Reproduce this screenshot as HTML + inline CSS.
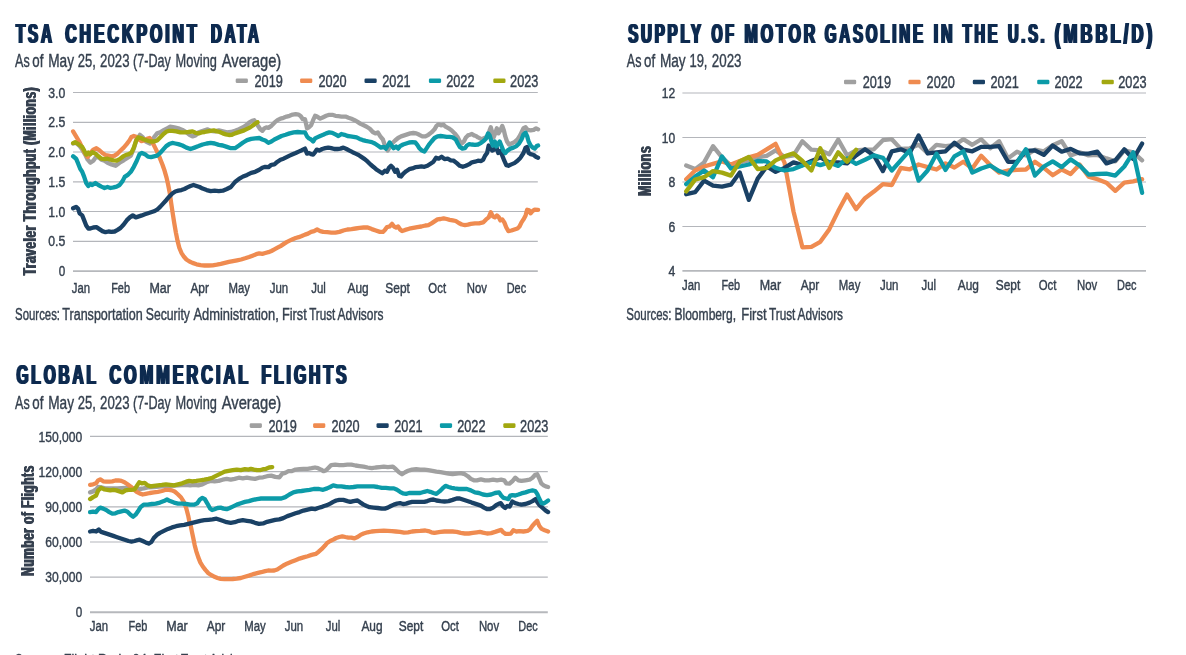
<!DOCTYPE html>
<html lang="en"><head><meta charset="utf-8"><title>Travel charts</title>
<style>
html,body{margin:0;padding:0;background:#fff;}
body{width:1186px;height:655px;overflow:hidden;font-family:"Liberation Sans", sans-serif;}
svg{display:block;font-family:"Liberation Sans", sans-serif;}
</style></head><body>
<svg width="1186" height="655" viewBox="0 0 1186 655">
<defs><filter id="hb" x="-2%" y="-10%" width="104%" height="120%"><feOffset in="SourceGraphic" dx="0.7" result="a"/><feOffset in="SourceGraphic" dx="-0.7" result="b"/><feMerge><feMergeNode in="a"/><feMergeNode in="b"/><feMergeNode in="SourceGraphic"/></feMerge></filter><filter id="vb" x="-20%" y="-5%" width="140%" height="110%"><feOffset in="SourceGraphic" dy="0.5" result="a"/><feOffset in="SourceGraphic" dy="-0.5" result="b"/><feMerge><feMergeNode in="a"/><feMergeNode in="b"/><feMergeNode in="SourceGraphic"/></feMerge></filter></defs>
<rect width="1186" height="655" fill="#ffffff"/>
<text y="42.7" font-size="26.8" font-weight="bold" fill="#0e2b50" letter-spacing="5.0" filter="url(#hb)"><tspan x="16.1" textLength="38.0" lengthAdjust="spacingAndGlyphs">TSA</tspan><tspan> </tspan><tspan x="65.2" textLength="134.5" lengthAdjust="spacingAndGlyphs">CHECKPOINT</tspan><tspan> </tspan><tspan x="211.1" textLength="50.4" lengthAdjust="spacingAndGlyphs">DATA</tspan></text>
<text y="66.6" font-size="19" fill="#36414f" stroke="#36414f" stroke-width="0.4"><tspan x="15.1" textLength="14.6" lengthAdjust="spacingAndGlyphs">As</tspan><tspan> </tspan><tspan x="32.3" textLength="11.1" lengthAdjust="spacingAndGlyphs">of</tspan><tspan> </tspan><tspan x="48.2" textLength="25.8" lengthAdjust="spacingAndGlyphs">May</tspan><tspan> </tspan><tspan x="77.7" textLength="18.1" lengthAdjust="spacingAndGlyphs">25,</tspan><tspan> </tspan><tspan x="100.1" textLength="29.4" lengthAdjust="spacingAndGlyphs">2023</tspan><tspan> </tspan><tspan x="133.1" textLength="37.7" lengthAdjust="spacingAndGlyphs">(7-Day</tspan><tspan> </tspan><tspan x="175.6" textLength="41.3" lengthAdjust="spacingAndGlyphs">Moving</tspan><tspan> </tspan><tspan x="221.7" textLength="59.6" lengthAdjust="spacingAndGlyphs">Average)</tspan></text>
<line x1="73.0" x2="537.8" y1="92.5" y2="92.5" stroke="#b4b6bb" stroke-width="1.15"/>
<line x1="73.0" x2="537.8" y1="122.3" y2="122.3" stroke="#b4b6bb" stroke-width="1.15"/>
<line x1="73.0" x2="537.8" y1="152.0" y2="152.0" stroke="#b4b6bb" stroke-width="1.15"/>
<line x1="73.0" x2="537.8" y1="181.8" y2="181.8" stroke="#b4b6bb" stroke-width="1.15"/>
<line x1="73.0" x2="537.8" y1="211.5" y2="211.5" stroke="#b4b6bb" stroke-width="1.15"/>
<line x1="73.0" x2="537.8" y1="241.3" y2="241.3" stroke="#b4b6bb" stroke-width="1.15"/>
<line x1="73.0" x2="537.8" y1="271.1" y2="271.1" stroke="#b6b8bc" stroke-width="1.9"/>
<text x="65.2" y="97.6" font-size="14" fill="#36414f" text-anchor="end" textLength="17.0" lengthAdjust="spacingAndGlyphs" stroke="#36414f" stroke-width="0.4">3.0</text>
<text x="65.2" y="127.4" font-size="14" fill="#36414f" text-anchor="end" textLength="17.0" lengthAdjust="spacingAndGlyphs" stroke="#36414f" stroke-width="0.4">2.5</text>
<text x="65.2" y="157.1" font-size="14" fill="#36414f" text-anchor="end" textLength="17.0" lengthAdjust="spacingAndGlyphs" stroke="#36414f" stroke-width="0.4">2.0</text>
<text x="65.2" y="186.9" font-size="14" fill="#36414f" text-anchor="end" textLength="17.0" lengthAdjust="spacingAndGlyphs" stroke="#36414f" stroke-width="0.4">1.5</text>
<text x="65.2" y="216.6" font-size="14" fill="#36414f" text-anchor="end" textLength="17.0" lengthAdjust="spacingAndGlyphs" stroke="#36414f" stroke-width="0.4">1.0</text>
<text x="65.2" y="246.4" font-size="14" fill="#36414f" text-anchor="end" textLength="17.0" lengthAdjust="spacingAndGlyphs" stroke="#36414f" stroke-width="0.4">0.5</text>
<text x="65.2" y="276.2" font-size="14" fill="#36414f" text-anchor="end" textLength="6.5" lengthAdjust="spacingAndGlyphs" stroke="#36414f" stroke-width="0.4">0</text>
<text x="81.0" y="292.7" font-size="14" fill="#36414f" text-anchor="middle" textLength="18.3" lengthAdjust="spacingAndGlyphs" stroke="#36414f" stroke-width="0.4">Jan</text>
<text x="120.6" y="292.7" font-size="14" fill="#36414f" text-anchor="middle" textLength="18.8" lengthAdjust="spacingAndGlyphs" stroke="#36414f" stroke-width="0.4">Feb</text>
<text x="160.2" y="292.7" font-size="14" fill="#36414f" text-anchor="middle" textLength="21.5" lengthAdjust="spacingAndGlyphs" stroke="#36414f" stroke-width="0.4">Mar</text>
<text x="199.7" y="292.7" font-size="14" fill="#36414f" text-anchor="middle" textLength="18.6" lengthAdjust="spacingAndGlyphs" stroke="#36414f" stroke-width="0.4">Apr</text>
<text x="239.3" y="292.7" font-size="14" fill="#36414f" text-anchor="middle" textLength="21.5" lengthAdjust="spacingAndGlyphs" stroke="#36414f" stroke-width="0.4">May</text>
<text x="278.9" y="292.7" font-size="14" fill="#36414f" text-anchor="middle" textLength="18.5" lengthAdjust="spacingAndGlyphs" stroke="#36414f" stroke-width="0.4">Jun</text>
<text x="318.5" y="292.7" font-size="14" fill="#36414f" text-anchor="middle" textLength="14.6" lengthAdjust="spacingAndGlyphs" stroke="#36414f" stroke-width="0.4">Jul</text>
<text x="358.1" y="292.7" font-size="14" fill="#36414f" text-anchor="middle" textLength="21.2" lengthAdjust="spacingAndGlyphs" stroke="#36414f" stroke-width="0.4">Aug</text>
<text x="397.6" y="292.7" font-size="14" fill="#36414f" text-anchor="middle" textLength="24.5" lengthAdjust="spacingAndGlyphs" stroke="#36414f" stroke-width="0.4">Sept</text>
<text x="437.2" y="292.7" font-size="14" fill="#36414f" text-anchor="middle" textLength="17.7" lengthAdjust="spacingAndGlyphs" stroke="#36414f" stroke-width="0.4">Oct</text>
<text x="476.8" y="292.7" font-size="14" fill="#36414f" text-anchor="middle" textLength="20.2" lengthAdjust="spacingAndGlyphs" stroke="#36414f" stroke-width="0.4">Nov</text>
<text x="516.4" y="292.7" font-size="14" fill="#36414f" text-anchor="middle" textLength="19.4" lengthAdjust="spacingAndGlyphs" stroke="#36414f" stroke-width="0.4">Dec</text>
<rect x="235.7" y="78.4" width="12.2" height="4.6" rx="1.3" fill="#a0a0a0"/>
<text x="254.5" y="86.8" font-size="16.5" fill="#36414f" text-anchor="start" textLength="28.3" lengthAdjust="spacingAndGlyphs" stroke="#36414f" stroke-width="0.4">2019</text>
<rect x="300.1" y="78.4" width="12.2" height="4.6" rx="1.3" fill="#ef8b50"/>
<text x="318.4" y="86.8" font-size="16.5" fill="#36414f" text-anchor="start" textLength="28.3" lengthAdjust="spacingAndGlyphs" stroke="#36414f" stroke-width="0.4">2020</text>
<rect x="364.5" y="78.4" width="12.2" height="4.6" rx="1.3" fill="#1a4165"/>
<text x="382.3" y="86.8" font-size="16.5" fill="#36414f" text-anchor="start" textLength="28.3" lengthAdjust="spacingAndGlyphs" stroke="#36414f" stroke-width="0.4">2021</text>
<rect x="428.9" y="78.4" width="12.2" height="4.6" rx="1.3" fill="#0c9ba8"/>
<text x="446.2" y="86.8" font-size="16.5" fill="#36414f" text-anchor="start" textLength="28.3" lengthAdjust="spacingAndGlyphs" stroke="#36414f" stroke-width="0.4">2022</text>
<rect x="493.3" y="78.4" width="12.2" height="4.6" rx="1.3" fill="#a2a810"/>
<text x="510.1" y="86.8" font-size="16.5" fill="#36414f" text-anchor="start" textLength="28.3" lengthAdjust="spacingAndGlyphs" stroke="#36414f" stroke-width="0.4">2023</text>
<text y="319.6" font-size="16" fill="#36414f" stroke="#36414f" stroke-width="0.4"><tspan x="15.1" textLength="44.9" lengthAdjust="spacingAndGlyphs">Sources:</tspan><tspan> </tspan><tspan x="62.3" textLength="80.4" lengthAdjust="spacingAndGlyphs">Transportation</tspan><tspan> </tspan><tspan x="145.8" textLength="44.1" lengthAdjust="spacingAndGlyphs">Security</tspan><tspan> </tspan><tspan x="193.4" textLength="85.4" lengthAdjust="spacingAndGlyphs">Administration,</tspan><tspan> </tspan><tspan x="281.9" textLength="24.8" lengthAdjust="spacingAndGlyphs">First</tspan><tspan> </tspan><tspan x="309.2" textLength="26.1" lengthAdjust="spacingAndGlyphs">Trust</tspan><tspan> </tspan><tspan x="337.6" textLength="45.8" lengthAdjust="spacingAndGlyphs">Advisors</tspan></text>
<g filter="url(#vb)"><text transform="translate(36.3,180.8) rotate(-90)" x="0" y="0" font-size="18.2" font-weight="bold" fill="#36414f" text-anchor="middle" letter-spacing="0.7" textLength="188.4" lengthAdjust="spacingAndGlyphs">Traveler Throughput (Millions)</text></g>
<path d="M73.1,143.5 L76.1,142.9 L79.2,145.5 L82.2,149.6 L85.2,154.6 L87.7,159.7 L90.3,162.7 L93.3,160.7 L95.4,157.7 L98.4,157.1 L101.4,159.7 L104.5,160.7 L107.5,162.7 L111.5,164.4 L115.6,165.8 L119.6,162.7 L123.7,160.3 L127.7,157.7 L130.8,155.6 L133.8,148.6 L136.2,140.5 L139.9,134.8 L142.9,137.4 L145.9,141.5 L150.0,143.5 L154.0,137.4 L157.1,133.4 L160.1,132.4 L164.2,129.9 L167.2,128.3 L170.2,126.7 L174.3,127.3 L178.3,128.3 L182.4,129.9 L186.4,132.4 L189.5,134.8 L192.5,136.4 L195.5,135.4 L198.6,132.4 L201.6,131.4 L204.6,130.4 L207.7,129.3 L210.7,130.8 L214.7,131.4 L218.8,130.4 L222.8,131.4 L226.9,132.4 L230.9,132.0 L235.0,130.8 L239.0,129.3 L243.1,127.3 L246.1,125.3 L249.1,122.7 L252.2,120.8 L254.2,120.2 L256.2,123.3 L258.3,126.3 L260.3,129.3 L262.3,130.8 L264.3,128.3 L266.3,127.3 L268.4,127.9 L271.4,125.9 L274.4,122.7 L277.5,120.2 L280.5,118.6 L283.5,117.8 L286.6,116.6 L289.6,115.8 L292.7,114.6 L295.7,114.2 L298.7,114.6 L300.8,116.2 L302.8,119.2 L305.0,119.2 L307.0,128.3 L309.0,127.3 L311.1,125.3 L313.1,120.2 L315.1,115.8 L317.1,116.6 L320.2,118.6 L323.2,117.2 L326.2,115.8 L329.3,114.8 L332.3,114.8 L335.4,115.8 L338.4,116.2 L341.4,116.6 L345.5,116.6 L348.5,117.8 L351.5,118.8 L354.6,120.2 L357.6,121.9 L360.6,123.9 L363.7,125.3 L366.7,126.7 L369.8,128.7 L372.8,132.0 L375.4,133.4 L377.8,132.4 L380.3,136.4 L382.9,139.5 L384.9,145.5 L387.6,150.6 L389.6,147.6 L392.0,143.5 L395.1,140.5 L398.1,138.0 L401.1,136.4 L404.2,135.4 L407.2,134.4 L410.2,133.4 L413.3,133.0 L416.3,133.4 L419.3,134.8 L422.4,136.4 L425.4,136.4 L428.4,134.8 L431.5,132.4 L434.5,129.3 L436.5,125.9 L438.6,124.3 L441.0,125.3 L443.6,124.7 L445.6,126.7 L448.7,128.3 L451.7,130.4 L454.7,133.4 L457.8,137.4 L459.8,141.5 L461.8,143.5 L463.9,141.5 L465.9,137.4 L467.9,135.4 L469.9,134.8 L471.9,134.0 L474.0,135.4 L476.0,136.0 L478.0,137.4 L480.0,138.4 L482.1,139.5 L484.1,138.0 L486.1,137.4 L488.1,135.4 L489.6,130.4 L490.8,127.3 L492.2,132.4 L493.6,137.4 L495.2,133.4 L496.8,128.3 L498.5,133.4 L500.3,130.4 L502.3,125.9 L503.9,130.4 L505.3,136.4 L507.0,141.5 L509.0,144.5 L511.4,143.5 L514.4,142.1 L517.5,139.5 L519.5,136.4 L521.5,132.4 L523.5,128.3 L525.6,127.3 L527.6,129.9 L530.6,130.4 L533.7,129.9 L536.1,128.3 L538.1,129.3" fill="none" stroke="#a0a0a0" stroke-width="4.3" stroke-linejoin="round" stroke-miterlimit="3" stroke-linecap="round"/>
<path d="M73.1,131.4 L76.1,136.4 L79.2,141.5 L82.2,147.6 L85.2,153.6 L87.7,157.1 L90.3,153.0 L93.3,149.6 L96.4,148.2 L99.4,150.2 L102.4,153.0 L105.5,155.0 L108.5,155.6 L111.5,156.3 L114.6,155.6 L117.6,153.6 L120.6,150.6 L123.7,147.6 L126.7,144.1 L129.4,140.5 L131.4,137.0 L133.8,136.0 L136.2,136.8 L138.9,139.5 L141.5,141.1 L144.3,140.5 L147.0,138.9 L149.6,138.0 L152.0,141.5 L155.1,147.6 L157.7,153.0 L160.1,158.7 L162.5,164.8 L164.6,170.8 L166.6,177.9 L168.2,185.0 L169.8,193.1 L171.2,203.2 L172.7,213.3 L174.3,223.4 L175.9,232.6 L177.5,240.6 L179.3,247.7 L181.4,252.8 L184.0,256.8 L186.4,259.5 L189.5,261.5 L192.5,262.9 L196.5,264.3 L200.6,265.1 L204.6,265.5 L208.7,265.5 L212.7,265.3 L216.8,264.7 L220.8,263.9 L224.9,262.9 L228.9,261.9 L233.0,261.1 L237.0,260.3 L241.1,259.5 L245.1,258.3 L249.1,257.0 L253.2,255.4 L256.2,254.2 L259.3,253.4 L262.3,253.8 L265.3,253.0 L268.4,252.2 L271.4,251.0 L274.4,249.4 L277.5,247.7 L280.5,246.1 L283.5,244.1 L286.6,242.1 L289.6,240.6 L292.7,239.2 L295.7,238.0 L298.7,237.2 L301.8,236.0 L305.0,234.6 L308.0,233.6 L311.1,231.9 L314.1,231.1 L317.1,229.5 L320.2,231.1 L323.2,231.9 L327.3,232.2 L331.3,232.6 L335.4,232.6 L339.4,231.9 L343.4,230.5 L347.5,229.5 L351.5,229.1 L355.6,228.5 L359.6,227.9 L363.7,227.5 L367.7,227.5 L371.8,229.1 L375.8,230.5 L379.9,231.9 L382.9,231.9 L384.9,229.9 L387.0,227.1 L389.6,226.5 L392.0,223.9 L394.0,226.5 L396.1,227.5 L398.1,226.5 L400.1,229.5 L402.1,231.1 L405.2,229.9 L409.2,228.7 L413.3,227.9 L417.3,227.1 L421.4,226.5 L425.4,225.5 L428.4,225.1 L431.5,223.4 L434.5,221.4 L437.5,219.4 L440.6,219.0 L443.6,218.4 L446.7,219.0 L449.7,219.8 L452.7,220.4 L455.8,221.0 L458.8,223.0 L461.8,224.5 L464.9,225.1 L467.9,224.7 L470.9,223.9 L475.0,223.4 L479.0,223.4 L483.1,222.4 L486.1,219.4 L488.7,217.4 L490.8,212.3 L492.8,216.4 L494.8,217.4 L496.8,215.4 L498.9,217.4 L500.3,220.4 L502.3,219.4 L504.3,222.4 L506.3,227.5 L508.4,231.1 L511.4,230.5 L514.4,229.5 L517.5,228.5 L519.5,226.5 L521.5,222.4 L523.5,219.4 L525.6,215.4 L527.2,209.7 L529.2,210.3 L530.6,213.3 L532.7,210.9 L534.7,209.7 L538.1,209.9" fill="none" stroke="#ef8b50" stroke-width="4.3" stroke-linejoin="round" stroke-miterlimit="3" stroke-linecap="round"/>
<path d="M73.1,208.3 L76.1,206.9 L78.2,208.9 L79.6,213.3 L82.2,215.4 L84.2,220.4 L86.2,225.5 L88.3,228.5 L90.3,228.5 L93.3,227.5 L96.4,227.1 L99.4,229.1 L102.4,231.1 L105.5,232.2 L108.5,231.5 L111.5,231.9 L114.6,231.5 L117.6,229.9 L120.6,227.9 L123.7,224.5 L126.7,220.4 L129.8,217.4 L132.8,215.4 L135.8,217.4 L138.9,216.4 L141.9,215.4 L144.9,214.3 L148.0,213.3 L151.0,212.3 L154.0,211.3 L157.1,209.7 L160.1,206.9 L163.1,203.6 L166.2,200.2 L169.2,196.7 L172.3,193.5 L175.3,191.5 L178.3,190.7 L181.4,190.1 L184.4,189.0 L187.4,187.4 L190.5,186.0 L193.5,185.0 L196.5,186.0 L199.6,187.0 L202.6,188.6 L206.7,190.1 L210.7,191.1 L214.7,190.7 L218.8,191.1 L222.8,190.7 L226.9,189.0 L230.9,187.0 L235.0,182.0 L239.0,178.9 L243.1,176.5 L247.1,174.9 L251.2,172.8 L255.2,171.8 L259.3,169.8 L262.3,167.8 L265.3,166.8 L268.4,167.2 L271.4,164.8 L274.4,164.4 L277.5,161.7 L280.5,159.7 L283.5,158.7 L286.6,157.1 L289.6,155.6 L292.7,154.2 L295.7,153.0 L298.7,151.6 L301.8,150.2 L305.0,148.6 L307.0,153.6 L309.0,153.0 L311.1,154.2 L313.1,154.6 L315.1,152.2 L316.7,149.6 L319.2,150.6 L322.2,149.0 L325.2,148.2 L328.3,147.6 L331.3,148.2 L334.3,149.0 L337.4,149.0 L340.4,148.6 L343.4,147.6 L346.5,149.0 L349.5,150.6 L352.6,152.2 L355.6,153.6 L358.6,155.0 L361.7,157.1 L364.7,159.1 L367.7,161.7 L370.8,164.8 L373.8,167.2 L376.8,169.8 L379.9,171.8 L382.3,173.3 L384.9,170.8 L387.0,171.8 L389.0,167.8 L391.0,165.8 L393.0,167.8 L395.1,171.8 L397.1,169.8 L399.1,175.9 L401.1,176.5 L403.1,173.9 L406.2,171.2 L409.2,169.2 L412.3,168.4 L415.3,167.2 L418.3,166.8 L421.4,166.4 L424.4,166.8 L427.4,165.8 L430.5,163.7 L433.5,161.7 L436.1,157.7 L438.6,158.7 L441.6,156.7 L444.6,159.1 L447.7,158.7 L450.7,160.3 L453.7,160.7 L456.8,163.1 L459.8,165.8 L462.8,166.8 L465.9,165.8 L468.9,164.4 L471.9,162.3 L475.0,161.7 L478.0,160.7 L481.1,161.1 L483.1,159.7 L485.1,155.6 L487.1,153.0 L488.7,145.5 L490.2,147.6 L492.2,150.6 L494.2,149.6 L496.2,146.5 L498.3,153.0 L500.3,151.0 L502.3,155.6 L504.3,160.7 L506.3,165.2 L508.4,165.8 L511.4,164.4 L514.4,163.1 L517.5,160.7 L520.5,157.7 L523.5,153.0 L525.6,147.6 L527.2,146.9 L528.6,153.0 L530.6,154.2 L533.7,155.0 L535.7,156.7 L538.1,157.7" fill="none" stroke="#1a4165" stroke-width="4.3" stroke-linejoin="round" stroke-miterlimit="3" stroke-linecap="round"/>
<path d="M73.1,156.3 L76.1,158.7 L78.2,163.7 L80.2,168.8 L82.2,171.8 L84.2,176.9 L86.2,183.0 L88.3,186.0 L90.3,184.0 L92.3,185.0 L95.4,183.0 L98.4,185.0 L101.4,186.6 L104.5,188.0 L107.5,187.0 L110.5,188.0 L113.6,187.4 L116.6,186.6 L119.6,185.0 L122.7,180.9 L124.7,176.9 L127.7,174.9 L130.8,171.8 L133.8,166.8 L136.8,160.7 L139.5,154.2 L141.9,153.0 L144.9,154.2 L148.0,156.7 L151.0,157.1 L154.0,156.3 L157.1,155.6 L160.1,153.0 L163.1,149.6 L166.2,146.1 L169.2,144.1 L172.3,142.9 L175.3,143.5 L178.3,144.1 L182.4,145.5 L186.4,147.6 L190.5,149.0 L194.5,147.6 L198.6,146.1 L202.6,144.5 L206.7,143.5 L210.7,142.9 L214.7,143.5 L218.8,144.9 L222.8,145.5 L226.9,146.9 L230.9,148.2 L235.0,148.2 L239.0,145.5 L243.1,142.5 L247.1,140.1 L251.2,138.9 L255.2,138.4 L259.3,138.0 L262.3,139.5 L265.3,140.5 L268.4,142.9 L271.4,141.5 L274.4,139.5 L277.5,138.0 L281.5,136.0 L285.6,134.8 L289.6,133.4 L293.7,132.4 L297.7,132.0 L301.8,132.4 L305.0,132.4 L307.0,136.4 L309.0,138.4 L311.1,139.5 L313.1,141.5 L315.1,138.4 L317.1,137.4 L320.2,136.0 L323.2,134.8 L326.2,133.4 L329.3,132.4 L332.3,132.8 L335.4,134.4 L338.4,136.0 L341.4,134.0 L344.5,134.8 L347.5,136.0 L350.5,136.4 L353.6,136.8 L356.6,137.4 L359.6,138.9 L362.7,140.1 L365.7,140.9 L368.7,141.5 L371.8,142.1 L374.8,143.5 L377.8,145.5 L380.9,147.6 L383.9,146.9 L385.9,148.6 L388.0,145.5 L389.6,142.5 L391.6,145.5 L393.6,148.2 L396.1,146.5 L398.1,148.6 L400.1,146.1 L403.1,144.5 L406.2,143.5 L409.2,142.5 L412.3,142.1 L415.3,142.5 L417.3,144.9 L419.3,148.2 L422.0,150.6 L424.4,151.6 L426.4,148.6 L428.8,144.9 L431.5,141.5 L434.5,138.0 L437.5,136.4 L440.6,136.0 L443.6,136.4 L446.7,136.8 L449.7,136.8 L452.7,137.4 L455.8,139.5 L457.8,143.5 L459.8,146.9 L462.4,148.6 L464.9,148.2 L466.9,145.5 L469.3,144.1 L471.9,144.5 L475.0,144.9 L478.0,144.5 L481.1,142.9 L484.1,140.5 L486.1,138.4 L488.1,133.4 L489.6,135.4 L491.2,140.5 L492.8,145.5 L494.8,141.5 L496.2,146.5 L498.3,143.5 L499.7,141.5 L501.3,145.5 L503.3,150.6 L505.3,153.0 L507.4,150.6 L510.4,148.6 L513.4,147.6 L516.5,146.1 L519.1,143.5 L521.5,139.5 L523.5,134.4 L525.6,132.8 L527.2,136.4 L528.6,141.5 L530.6,145.5 L532.7,147.6 L534.7,148.6 L536.7,146.1 L538.1,145.5" fill="none" stroke="#0c9ba8" stroke-width="4.3" stroke-linejoin="round" stroke-miterlimit="3" stroke-linecap="round"/>
<path d="M73.1,143.1 L75.1,142.1 L77.5,143.5 L80.2,145.5 L82.2,146.9 L84.2,150.6 L86.2,154.6 L88.3,152.6 L90.3,154.2 L92.3,152.2 L95.4,153.6 L98.4,156.3 L101.4,158.7 L104.5,159.1 L107.5,158.7 L110.5,159.7 L113.6,160.3 L116.6,160.7 L119.6,159.1 L122.7,156.7 L125.7,155.0 L128.7,154.2 L131.4,152.6 L133.8,147.6 L136.2,140.5 L138.3,137.4 L140.9,138.0 L143.9,139.5 L147.0,140.5 L150.0,141.5 L154.0,141.5 L157.1,140.5 L160.1,137.4 L163.1,134.4 L166.2,131.8 L169.2,130.8 L172.3,130.8 L176.3,131.4 L180.3,132.4 L184.4,132.4 L188.4,132.0 L192.5,131.4 L195.5,132.8 L198.6,133.4 L201.6,132.4 L204.6,132.0 L207.7,131.4 L210.7,130.8 L213.7,130.4 L216.8,131.4 L219.8,132.0 L222.8,133.4 L225.9,134.4 L228.9,135.0 L231.9,134.8 L235.0,133.4 L238.0,132.4 L241.1,131.4 L244.1,130.4 L247.1,128.9 L250.2,127.3 L253.2,125.3 L256.2,122.9 L257.6,122.3" fill="none" stroke="#a2a810" stroke-width="4.3" stroke-linejoin="round" stroke-miterlimit="3" stroke-linecap="round"/>
<text y="42.5" font-size="26.8" font-weight="bold" fill="#0e2b50" letter-spacing="5.0" filter="url(#hb)"><tspan x="628.2" textLength="75.4" lengthAdjust="spacingAndGlyphs">SUPPLY</tspan><tspan> </tspan><tspan x="711.5" textLength="25.1" lengthAdjust="spacingAndGlyphs">OF</tspan><tspan> </tspan><tspan x="744.5" textLength="73.8" lengthAdjust="spacingAndGlyphs">MOTOR</tspan><tspan> </tspan><tspan x="824.8" textLength="101.1" lengthAdjust="spacingAndGlyphs">GASOLINE</tspan><tspan> </tspan><tspan x="933.7" textLength="21.9" lengthAdjust="spacingAndGlyphs">IN</tspan><tspan> </tspan><tspan x="962.8" textLength="37.3" lengthAdjust="spacingAndGlyphs">THE</tspan><tspan> </tspan><tspan x="1008.1" textLength="39.3" lengthAdjust="spacingAndGlyphs">U.S.</tspan><tspan> </tspan><tspan x="1054.8" textLength="100.5" lengthAdjust="spacingAndGlyphs">(MBBL/D)</tspan></text>
<text y="66.9" font-size="19" fill="#36414f" stroke="#36414f" stroke-width="0.4"><tspan x="626.8" textLength="14.6" lengthAdjust="spacingAndGlyphs">As</tspan><tspan> </tspan><tspan x="644.0" textLength="11.1" lengthAdjust="spacingAndGlyphs">of</tspan><tspan> </tspan><tspan x="659.9" textLength="25.8" lengthAdjust="spacingAndGlyphs">May</tspan><tspan> </tspan><tspan x="689.4" textLength="18.1" lengthAdjust="spacingAndGlyphs">19,</tspan><tspan> </tspan><tspan x="711.8" textLength="29.7" lengthAdjust="spacingAndGlyphs">2023</tspan></text>
<line x1="682.4" x2="1146.0" y1="93.0" y2="93.0" stroke="#b4b6bb" stroke-width="1.15"/>
<line x1="682.4" x2="1146.0" y1="137.5" y2="137.5" stroke="#b4b6bb" stroke-width="1.15"/>
<line x1="682.4" x2="1146.0" y1="182.0" y2="182.0" stroke="#b4b6bb" stroke-width="1.15"/>
<line x1="682.4" x2="1146.0" y1="226.5" y2="226.5" stroke="#b4b6bb" stroke-width="1.15"/>
<line x1="682.4" x2="1146.0" y1="270.9" y2="270.9" stroke="#b6b8bc" stroke-width="1.9"/>
<text x="675.2" y="98.1" font-size="14" fill="#36414f" text-anchor="end" textLength="13.4" lengthAdjust="spacingAndGlyphs" stroke="#36414f" stroke-width="0.4">12</text>
<text x="675.2" y="142.6" font-size="14" fill="#36414f" text-anchor="end" textLength="13.4" lengthAdjust="spacingAndGlyphs" stroke="#36414f" stroke-width="0.4">10</text>
<text x="675.2" y="187.1" font-size="14" fill="#36414f" text-anchor="end" textLength="6.8" lengthAdjust="spacingAndGlyphs" stroke="#36414f" stroke-width="0.4">8</text>
<text x="675.2" y="231.6" font-size="14" fill="#36414f" text-anchor="end" textLength="6.8" lengthAdjust="spacingAndGlyphs" stroke="#36414f" stroke-width="0.4">6</text>
<text x="675.2" y="276.1" font-size="14" fill="#36414f" text-anchor="end" textLength="6.8" lengthAdjust="spacingAndGlyphs" stroke="#36414f" stroke-width="0.4">4</text>
<text x="691.2" y="290.0" font-size="14" fill="#36414f" text-anchor="middle" textLength="18.3" lengthAdjust="spacingAndGlyphs" stroke="#36414f" stroke-width="0.4">Jan</text>
<text x="730.8" y="290.0" font-size="14" fill="#36414f" text-anchor="middle" textLength="18.8" lengthAdjust="spacingAndGlyphs" stroke="#36414f" stroke-width="0.4">Feb</text>
<text x="770.4" y="290.0" font-size="14" fill="#36414f" text-anchor="middle" textLength="21.5" lengthAdjust="spacingAndGlyphs" stroke="#36414f" stroke-width="0.4">Mar</text>
<text x="810.0" y="290.0" font-size="14" fill="#36414f" text-anchor="middle" textLength="18.6" lengthAdjust="spacingAndGlyphs" stroke="#36414f" stroke-width="0.4">Apr</text>
<text x="849.6" y="290.0" font-size="14" fill="#36414f" text-anchor="middle" textLength="21.5" lengthAdjust="spacingAndGlyphs" stroke="#36414f" stroke-width="0.4">May</text>
<text x="889.2" y="290.0" font-size="14" fill="#36414f" text-anchor="middle" textLength="18.5" lengthAdjust="spacingAndGlyphs" stroke="#36414f" stroke-width="0.4">Jun</text>
<text x="928.8" y="290.0" font-size="14" fill="#36414f" text-anchor="middle" textLength="14.6" lengthAdjust="spacingAndGlyphs" stroke="#36414f" stroke-width="0.4">Jul</text>
<text x="968.4" y="290.0" font-size="14" fill="#36414f" text-anchor="middle" textLength="21.2" lengthAdjust="spacingAndGlyphs" stroke="#36414f" stroke-width="0.4">Aug</text>
<text x="1008.0" y="290.0" font-size="14" fill="#36414f" text-anchor="middle" textLength="24.5" lengthAdjust="spacingAndGlyphs" stroke="#36414f" stroke-width="0.4">Sept</text>
<text x="1047.6" y="290.0" font-size="14" fill="#36414f" text-anchor="middle" textLength="17.7" lengthAdjust="spacingAndGlyphs" stroke="#36414f" stroke-width="0.4">Oct</text>
<text x="1087.2" y="290.0" font-size="14" fill="#36414f" text-anchor="middle" textLength="20.2" lengthAdjust="spacingAndGlyphs" stroke="#36414f" stroke-width="0.4">Nov</text>
<text x="1126.8" y="290.0" font-size="14" fill="#36414f" text-anchor="middle" textLength="19.4" lengthAdjust="spacingAndGlyphs" stroke="#36414f" stroke-width="0.4">Dec</text>
<rect x="844.0" y="79.7" width="12.2" height="4.6" rx="1.3" fill="#a0a0a0"/>
<text x="862.7" y="88.1" font-size="16.5" fill="#36414f" text-anchor="start" textLength="28.3" lengthAdjust="spacingAndGlyphs" stroke="#36414f" stroke-width="0.4">2019</text>
<rect x="908.4" y="79.7" width="12.2" height="4.6" rx="1.3" fill="#ef8b50"/>
<text x="926.6" y="88.1" font-size="16.5" fill="#36414f" text-anchor="start" textLength="28.3" lengthAdjust="spacingAndGlyphs" stroke="#36414f" stroke-width="0.4">2020</text>
<rect x="972.8" y="79.7" width="12.2" height="4.6" rx="1.3" fill="#1a4165"/>
<text x="990.5" y="88.1" font-size="16.5" fill="#36414f" text-anchor="start" textLength="28.3" lengthAdjust="spacingAndGlyphs" stroke="#36414f" stroke-width="0.4">2021</text>
<rect x="1037.2" y="79.7" width="12.2" height="4.6" rx="1.3" fill="#0c9ba8"/>
<text x="1054.4" y="88.1" font-size="16.5" fill="#36414f" text-anchor="start" textLength="28.3" lengthAdjust="spacingAndGlyphs" stroke="#36414f" stroke-width="0.4">2022</text>
<rect x="1101.6" y="79.7" width="12.2" height="4.6" rx="1.3" fill="#a2a810"/>
<text x="1118.3" y="88.1" font-size="16.5" fill="#36414f" text-anchor="start" textLength="28.3" lengthAdjust="spacingAndGlyphs" stroke="#36414f" stroke-width="0.4">2023</text>
<text y="319.7" font-size="16" fill="#36414f" stroke="#36414f" stroke-width="0.4"><tspan x="626.3" textLength="45.2" lengthAdjust="spacingAndGlyphs">Sources:</tspan><tspan> </tspan><tspan x="674.4" textLength="61.8" lengthAdjust="spacingAndGlyphs">Bloomberg,</tspan><tspan> </tspan><tspan x="741.2" textLength="25.4" lengthAdjust="spacingAndGlyphs">First</tspan><tspan> </tspan><tspan x="769.0" textLength="26.4" lengthAdjust="spacingAndGlyphs">Trust</tspan><tspan> </tspan><tspan x="797.6" textLength="45.4" lengthAdjust="spacingAndGlyphs">Advisors</tspan></text>
<g filter="url(#vb)"><text transform="translate(651.1,170.5) rotate(-90)" x="0" y="0" font-size="18.2" font-weight="bold" fill="#36414f" text-anchor="middle" letter-spacing="0.7" textLength="50.2" lengthAdjust="spacingAndGlyphs">Millions</text></g>
<path d="M686.2,165.5 L695.1,169.1 L704.1,162.4 L713.0,146.2 L722.0,157.4 L730.9,165.5 L739.8,162.4 L748.8,160.4 L757.7,157.4 L766.7,155.8 L775.6,150.3 L784.5,157.0 L793.5,155.4 L802.4,141.2 L811.4,149.7 L820.3,150.3 L829.2,154.3 L838.2,139.6 L847.1,155.4 L856.1,150.3 L865.0,149.7 L873.9,149.3 L882.9,140.2 L891.8,139.2 L900.8,148.9 L909.7,148.3 L918.6,144.8 L927.6,153.3 L936.5,144.8 L945.5,146.2 L954.4,145.2 L963.3,139.2 L972.3,144.8 L981.2,139.2 L990.2,148.3 L999.1,141.2 L1008.0,158.4 L1017.0,151.7 L1025.9,155.4 L1034.9,149.7 L1043.8,151.3 L1052.7,145.2 L1061.7,141.2 L1070.6,155.4 L1079.6,152.3 L1088.5,155.4 L1097.4,154.9 L1106.4,158.4 L1115.3,161.4 L1124.3,150.3 L1133.2,152.3 L1142.1,160.4" fill="none" stroke="#a0a0a0" stroke-width="4.3" stroke-linejoin="round" stroke-miterlimit="3" stroke-linecap="round"/>
<path d="M686.2,179.2 L695.1,170.5 L704.1,166.5 L713.0,163.9 L722.0,161.4 L730.9,164.5 L739.8,161.0 L748.8,157.4 L757.7,154.9 L766.7,149.3 L775.6,143.8 L784.5,162.7 L793.5,211.5 L802.4,247.3 L811.4,246.9 L820.3,241.8 L829.2,229.4 L838.2,211.1 L847.1,194.6 L856.1,209.2 L865.0,198.2 L873.9,191.6 L882.9,184.1 L891.8,185.0 L900.8,168.0 L909.7,169.3 L918.6,164.5 L927.6,167.1 L936.5,169.5 L945.5,163.4 L954.4,167.5 L963.3,161.8 L972.3,168.5 L981.2,155.8 L990.2,165.1 L999.1,172.6 L1008.0,170.5 L1017.0,169.9 L1025.9,169.5 L1034.9,161.8 L1043.8,167.9 L1052.7,175.2 L1061.7,169.5 L1070.6,174.0 L1079.6,164.5 L1088.5,176.6 L1097.4,179.2 L1106.4,182.7 L1115.3,190.8 L1124.3,182.7 L1133.2,181.3 L1142.1,179.2" fill="none" stroke="#ef8b50" stroke-width="4.3" stroke-linejoin="round" stroke-miterlimit="3" stroke-linecap="round"/>
<path d="M686.2,194.2 L695.1,192.2 L704.1,180.6 L713.0,185.7 L722.0,186.7 L730.9,184.7 L739.8,172.6 L748.8,199.9 L757.7,178.6 L766.7,166.5 L775.6,171.9 L784.5,167.9 L793.5,162.4 L802.4,165.1 L811.4,161.0 L820.3,157.4 L829.2,162.4 L838.2,162.4 L847.1,163.4 L856.1,155.4 L865.0,149.3 L873.9,155.4 L882.9,171.1 L891.8,151.3 L900.8,149.3 L909.7,152.9 L918.6,135.5 L927.6,153.3 L936.5,152.3 L945.5,151.3 L954.4,142.8 L963.3,149.7 L972.3,151.3 L981.2,146.9 L990.2,146.9 L999.1,146.2 L1008.0,161.8 L1017.0,161.8 L1025.9,150.9 L1034.9,150.3 L1043.8,154.9 L1052.7,145.6 L1061.7,151.7 L1070.6,148.9 L1079.6,153.3 L1088.5,153.7 L1097.4,151.7 L1106.4,163.4 L1115.3,160.4 L1124.3,149.3 L1133.2,159.0 L1142.1,143.6" fill="none" stroke="#1a4165" stroke-width="4.3" stroke-linejoin="round" stroke-miterlimit="3" stroke-linecap="round"/>
<path d="M686.2,184.1 L695.1,176.6 L704.1,170.5 L713.0,177.2 L722.0,156.4 L730.9,168.5 L739.8,166.5 L748.8,164.5 L757.7,161.0 L766.7,161.4 L775.6,167.9 L784.5,170.5 L793.5,169.1 L802.4,165.5 L811.4,162.4 L820.3,165.1 L829.2,162.4 L838.2,165.9 L847.1,158.4 L856.1,163.9 L865.0,159.8 L873.9,155.4 L882.9,157.8 L891.8,170.5 L900.8,160.4 L909.7,150.3 L918.6,180.6 L927.6,170.5 L936.5,153.7 L945.5,169.9 L954.4,156.4 L963.3,151.3 L972.3,172.6 L981.2,168.5 L990.2,165.5 L999.1,171.1 L1008.0,174.6 L1017.0,162.4 L1025.9,149.3 L1034.9,175.6 L1043.8,166.5 L1052.7,161.4 L1061.7,167.1 L1070.6,159.4 L1079.6,165.5 L1088.5,174.6 L1097.4,174.0 L1106.4,173.6 L1115.3,175.6 L1124.3,166.5 L1133.2,152.3 L1142.1,192.8" fill="none" stroke="#0c9ba8" stroke-width="4.3" stroke-linejoin="round" stroke-miterlimit="3" stroke-linecap="round"/>
<path d="M686.2,191.4 L695.1,179.6 L704.1,177.2 L713.0,171.1 L722.0,172.6 L730.9,175.6 L739.8,161.4 L748.8,157.0 L757.7,169.1 L766.7,167.9 L775.6,160.4 L784.5,156.4 L793.5,153.3 L802.4,161.0 L811.4,170.5 L820.3,148.3 L829.2,167.9 L838.2,152.3 L847.1,161.8 L856.1,149.7" fill="none" stroke="#a2a810" stroke-width="4.3" stroke-linejoin="round" stroke-miterlimit="3" stroke-linecap="round"/>
<text y="383.6" font-size="26.8" font-weight="bold" fill="#0e2b50" letter-spacing="5.0" filter="url(#hb)"><tspan x="16.5" textLength="82.0" lengthAdjust="spacingAndGlyphs">GLOBAL</tspan><tspan> </tspan><tspan x="109.4" textLength="141.4" lengthAdjust="spacingAndGlyphs">COMMERCIAL</tspan><tspan> </tspan><tspan x="261.4" textLength="88.1" lengthAdjust="spacingAndGlyphs">FLIGHTS</tspan></text>
<text y="408.9" font-size="19" fill="#36414f" stroke="#36414f" stroke-width="0.4"><tspan x="15.1" textLength="14.6" lengthAdjust="spacingAndGlyphs">As</tspan><tspan> </tspan><tspan x="32.3" textLength="11.1" lengthAdjust="spacingAndGlyphs">of</tspan><tspan> </tspan><tspan x="48.2" textLength="25.8" lengthAdjust="spacingAndGlyphs">May</tspan><tspan> </tspan><tspan x="77.7" textLength="18.1" lengthAdjust="spacingAndGlyphs">25,</tspan><tspan> </tspan><tspan x="100.1" textLength="29.4" lengthAdjust="spacingAndGlyphs">2023</tspan><tspan> </tspan><tspan x="133.1" textLength="37.7" lengthAdjust="spacingAndGlyphs">(7-Day</tspan><tspan> </tspan><tspan x="175.6" textLength="41.3" lengthAdjust="spacingAndGlyphs">Moving</tspan><tspan> </tspan><tspan x="221.7" textLength="59.6" lengthAdjust="spacingAndGlyphs">Average)</tspan></text>
<line x1="90.0" x2="547.8" y1="436.4" y2="436.4" stroke="#b4b6bb" stroke-width="1.15"/>
<line x1="90.0" x2="547.8" y1="471.6" y2="471.6" stroke="#b4b6bb" stroke-width="1.15"/>
<line x1="90.0" x2="547.8" y1="506.8" y2="506.8" stroke="#b4b6bb" stroke-width="1.15"/>
<line x1="90.0" x2="547.8" y1="542.0" y2="542.0" stroke="#b4b6bb" stroke-width="1.15"/>
<line x1="90.0" x2="547.8" y1="577.1" y2="577.1" stroke="#b4b6bb" stroke-width="1.15"/>
<line x1="90.0" x2="547.8" y1="612.2" y2="612.2" stroke="#b6b8bc" stroke-width="1.9"/>
<text x="82.2" y="441.5" font-size="14" fill="#36414f" text-anchor="end" textLength="43.7" lengthAdjust="spacingAndGlyphs" stroke="#36414f" stroke-width="0.4">150,000</text>
<text x="82.2" y="476.7" font-size="14" fill="#36414f" text-anchor="end" textLength="43.7" lengthAdjust="spacingAndGlyphs" stroke="#36414f" stroke-width="0.4">120,000</text>
<text x="82.2" y="511.9" font-size="14" fill="#36414f" text-anchor="end" textLength="37.0" lengthAdjust="spacingAndGlyphs" stroke="#36414f" stroke-width="0.4">90,000</text>
<text x="82.2" y="547.1" font-size="14" fill="#36414f" text-anchor="end" textLength="37.0" lengthAdjust="spacingAndGlyphs" stroke="#36414f" stroke-width="0.4">60,000</text>
<text x="82.2" y="582.2" font-size="14" fill="#36414f" text-anchor="end" textLength="37.0" lengthAdjust="spacingAndGlyphs" stroke="#36414f" stroke-width="0.4">30,000</text>
<text x="82.2" y="617.4" font-size="14" fill="#36414f" text-anchor="end" textLength="6.5" lengthAdjust="spacingAndGlyphs" stroke="#36414f" stroke-width="0.4">0</text>
<text x="99.0" y="630.5" font-size="14" fill="#36414f" text-anchor="middle" textLength="18.3" lengthAdjust="spacingAndGlyphs" stroke="#36414f" stroke-width="0.4">Jan</text>
<text x="138.0" y="630.5" font-size="14" fill="#36414f" text-anchor="middle" textLength="18.8" lengthAdjust="spacingAndGlyphs" stroke="#36414f" stroke-width="0.4">Feb</text>
<text x="177.0" y="630.5" font-size="14" fill="#36414f" text-anchor="middle" textLength="21.5" lengthAdjust="spacingAndGlyphs" stroke="#36414f" stroke-width="0.4">Mar</text>
<text x="216.0" y="630.5" font-size="14" fill="#36414f" text-anchor="middle" textLength="18.6" lengthAdjust="spacingAndGlyphs" stroke="#36414f" stroke-width="0.4">Apr</text>
<text x="255.0" y="630.5" font-size="14" fill="#36414f" text-anchor="middle" textLength="21.5" lengthAdjust="spacingAndGlyphs" stroke="#36414f" stroke-width="0.4">May</text>
<text x="294.0" y="630.5" font-size="14" fill="#36414f" text-anchor="middle" textLength="18.5" lengthAdjust="spacingAndGlyphs" stroke="#36414f" stroke-width="0.4">Jun</text>
<text x="333.0" y="630.5" font-size="14" fill="#36414f" text-anchor="middle" textLength="14.6" lengthAdjust="spacingAndGlyphs" stroke="#36414f" stroke-width="0.4">Jul</text>
<text x="372.0" y="630.5" font-size="14" fill="#36414f" text-anchor="middle" textLength="21.2" lengthAdjust="spacingAndGlyphs" stroke="#36414f" stroke-width="0.4">Aug</text>
<text x="411.0" y="630.5" font-size="14" fill="#36414f" text-anchor="middle" textLength="24.5" lengthAdjust="spacingAndGlyphs" stroke="#36414f" stroke-width="0.4">Sept</text>
<text x="450.0" y="630.5" font-size="14" fill="#36414f" text-anchor="middle" textLength="17.7" lengthAdjust="spacingAndGlyphs" stroke="#36414f" stroke-width="0.4">Oct</text>
<text x="489.0" y="630.5" font-size="14" fill="#36414f" text-anchor="middle" textLength="20.2" lengthAdjust="spacingAndGlyphs" stroke="#36414f" stroke-width="0.4">Nov</text>
<text x="528.0" y="630.5" font-size="14" fill="#36414f" text-anchor="middle" textLength="19.4" lengthAdjust="spacingAndGlyphs" stroke="#36414f" stroke-width="0.4">Dec</text>
<rect x="249.7" y="423.3" width="12.2" height="4.6" rx="1.3" fill="#a0a0a0"/>
<text x="268.5" y="431.7" font-size="16.5" fill="#36414f" text-anchor="start" textLength="28.3" lengthAdjust="spacingAndGlyphs" stroke="#36414f" stroke-width="0.4">2019</text>
<rect x="313.1" y="423.3" width="12.2" height="4.6" rx="1.3" fill="#ef8b50"/>
<text x="331.4" y="431.7" font-size="16.5" fill="#36414f" text-anchor="start" textLength="28.3" lengthAdjust="spacingAndGlyphs" stroke="#36414f" stroke-width="0.4">2020</text>
<rect x="376.5" y="423.3" width="12.2" height="4.6" rx="1.3" fill="#1a4165"/>
<text x="394.3" y="431.7" font-size="16.5" fill="#36414f" text-anchor="start" textLength="28.3" lengthAdjust="spacingAndGlyphs" stroke="#36414f" stroke-width="0.4">2021</text>
<rect x="439.9" y="423.3" width="12.2" height="4.6" rx="1.3" fill="#0c9ba8"/>
<text x="457.2" y="431.7" font-size="16.5" fill="#36414f" text-anchor="start" textLength="28.3" lengthAdjust="spacingAndGlyphs" stroke="#36414f" stroke-width="0.4">2022</text>
<rect x="503.3" y="423.3" width="12.2" height="4.6" rx="1.3" fill="#a2a810"/>
<text x="520.1" y="431.7" font-size="16.5" fill="#36414f" text-anchor="start" textLength="28.3" lengthAdjust="spacingAndGlyphs" stroke="#36414f" stroke-width="0.4">2023</text>
<text y="665.5" font-size="16" fill="#36414f" stroke="#36414f" stroke-width="0.4"><tspan x="15.1" textLength="44.9" lengthAdjust="spacingAndGlyphs">Sources:</tspan><tspan> </tspan><tspan x="63.7" textLength="31.1" lengthAdjust="spacingAndGlyphs">Flight</tspan><tspan> </tspan><tspan x="97.9" textLength="52.4" lengthAdjust="spacingAndGlyphs">Radar24,</tspan><tspan> </tspan><tspan x="153.5" textLength="25.1" lengthAdjust="spacingAndGlyphs">First</tspan><tspan> </tspan><tspan x="181.0" textLength="26.3" lengthAdjust="spacingAndGlyphs">Trust</tspan><tspan> </tspan><tspan x="209.5" textLength="45.6" lengthAdjust="spacingAndGlyphs">Advisors</tspan></text>
<g filter="url(#vb)"><text transform="translate(33.6,520.2) rotate(-90)" x="0" y="0" font-size="18.2" font-weight="bold" fill="#36414f" text-anchor="middle" letter-spacing="0.7" textLength="110.4" lengthAdjust="spacingAndGlyphs">Number of Flights</text></g>
<path d="M90.1,492.4 L93.1,491.4 L96.1,489.4 L98.2,487.0 L101.2,487.4 L105.2,488.4 L111.3,488.4 L117.4,488.4 L125.5,488.0 L133.6,488.4 L139.6,489.0 L143.7,488.4 L147.7,487.4 L153.8,487.0 L161.9,486.4 L170.0,485.8 L178.1,485.4 L186.2,484.9 L190.2,485.4 L194.3,484.9 L198.3,485.4 L202.4,484.3 L206.4,482.3 L210.5,480.9 L214.5,481.3 L218.6,480.9 L222.6,479.7 L226.7,478.9 L230.7,479.7 L234.7,478.9 L238.8,477.7 L242.8,478.3 L246.9,477.7 L250.9,478.3 L255.0,478.9 L259.0,477.7 L263.1,477.3 L267.1,476.2 L271.2,475.6 L275.2,476.9 L279.3,477.3 L282.3,473.6 L285.3,472.8 L288.4,471.2 L291.4,471.2 L295.5,469.6 L299.5,469.2 L303.5,468.8 L307.6,468.8 L311.6,468.2 L315.0,467.5 L318.0,468.2 L321.1,469.6 L323.5,471.2 L326.1,470.2 L328.8,467.5 L331.2,465.1 L335.2,464.7 L339.3,465.1 L343.3,465.1 L347.4,464.7 L351.4,464.7 L355.5,465.5 L359.5,466.1 L363.6,466.7 L367.6,467.5 L371.7,468.2 L375.7,467.5 L379.8,467.1 L383.8,466.7 L387.8,467.1 L392.9,466.7 L395.9,469.2 L399.0,472.2 L402.0,474.2 L405.1,472.2 L408.1,470.8 L412.1,469.6 L416.2,469.2 L420.2,469.6 L424.3,469.6 L428.3,470.2 L432.4,470.8 L436.4,471.6 L440.5,472.2 L444.5,472.8 L448.6,473.6 L452.6,474.2 L456.7,473.6 L460.7,473.2 L464.7,474.2 L467.8,476.2 L470.8,478.9 L473.9,480.3 L476.9,480.3 L480.9,479.3 L485.0,480.3 L489.0,480.3 L493.1,479.7 L497.1,480.3 L501.2,479.7 L504.2,480.3 L506.2,483.3 L509.3,483.7 L512.3,481.3 L515.3,477.7 L518.4,480.3 L521.4,480.9 L525.5,480.3 L529.5,479.7 L532.5,477.7 L535.2,474.8 L537.2,474.2 L539.2,478.3 L541.2,483.3 L543.7,485.4 L545.7,486.4 L548.1,487.0" fill="none" stroke="#a0a0a0" stroke-width="4.3" stroke-linejoin="round" stroke-miterlimit="3" stroke-linecap="round"/>
<path d="M90.1,484.9 L93.1,484.3 L96.1,483.3 L98.2,480.3 L100.2,479.3 L103.2,481.3 L106.2,481.7 L109.3,481.7 L112.3,481.3 L115.4,480.5 L118.4,480.3 L121.4,480.9 L124.5,482.3 L127.5,484.3 L130.5,486.4 L133.6,489.4 L136.6,491.8 L139.6,493.4 L142.7,494.5 L145.7,493.9 L149.8,493.0 L153.8,492.4 L157.8,491.8 L161.9,491.0 L165.9,489.8 L169.0,489.8 L172.0,490.4 L175.1,491.8 L178.1,494.5 L181.1,497.5 L183.8,501.9 L186.2,508.0 L188.2,515.7 L189.4,521.8 L190.6,525.0 L191.8,531.1 L193.3,538.2 L194.7,545.2 L196.3,551.3 L198.3,557.4 L200.3,562.4 L202.8,566.5 L205.4,569.9 L208.4,573.2 L211.5,575.2 L214.5,576.8 L217.5,578.0 L220.6,578.8 L224.6,579.2 L228.7,579.2 L232.7,579.0 L236.8,578.6 L240.8,578.0 L244.9,576.8 L248.9,575.6 L253.0,574.2 L257.0,573.2 L261.1,572.2 L265.1,571.1 L268.1,570.5 L271.2,570.7 L274.2,570.5 L277.2,569.5 L280.3,567.5 L283.3,565.5 L287.4,563.4 L291.4,561.8 L295.5,560.2 L299.5,558.6 L303.5,557.4 L307.6,556.2 L311.6,554.9 L315.7,553.9 L318.7,551.7 L321.8,548.9 L325.0,545.6 L327.1,543.0 L330.2,541.0 L333.2,539.6 L336.2,538.0 L339.3,537.0 L342.3,536.3 L345.4,537.0 L348.4,537.6 L351.4,537.6 L354.5,538.4 L357.5,537.0 L360.5,534.9 L363.6,533.5 L367.6,532.3 L371.7,531.5 L375.7,531.1 L379.8,530.9 L383.8,530.7 L387.8,530.9 L391.9,531.1 L395.9,531.5 L400.0,531.9 L404.0,532.7 L408.1,532.3 L412.1,531.5 L416.2,531.1 L420.2,530.9 L425.3,530.5 L428.3,531.1 L431.4,532.3 L434.4,532.9 L437.4,532.3 L440.5,531.9 L444.5,531.5 L448.6,531.5 L452.6,531.5 L456.7,531.9 L460.7,532.9 L464.7,533.5 L468.8,533.5 L472.8,532.9 L476.9,532.3 L479.9,531.9 L483.0,532.7 L487.0,533.5 L491.1,533.1 L495.1,531.9 L498.1,530.9 L501.2,529.9 L503.2,532.3 L505.6,533.9 L508.3,533.9 L510.9,533.5 L513.3,530.3 L516.3,531.5 L519.4,531.1 L523.4,531.5 L527.5,530.9 L529.9,529.5 L532.5,525.8 L535.2,522.8 L537.2,520.8 L539.2,525.8 L541.6,528.9 L544.7,530.3 L548.1,531.5" fill="none" stroke="#ef8b50" stroke-width="4.3" stroke-linejoin="round" stroke-miterlimit="3" stroke-linecap="round"/>
<path d="M90.1,531.5 L93.1,530.9 L96.1,531.5 L98.8,529.5 L101.2,531.9 L104.2,532.9 L107.3,533.9 L110.3,534.9 L113.3,535.9 L116.4,537.0 L119.4,538.0 L122.4,539.0 L125.5,540.0 L128.5,541.0 L131.5,541.6 L134.6,541.0 L137.6,540.0 L139.6,539.6 L142.7,541.0 L145.7,542.4 L148.7,543.6 L151.4,542.0 L153.8,538.0 L156.8,534.9 L159.9,532.9 L163.9,530.9 L168.0,528.9 L172.0,527.4 L176.1,526.2 L180.1,525.4 L184.2,524.8 L188.2,523.8 L192.3,522.8 L196.3,521.8 L200.3,520.8 L204.4,520.2 L208.4,519.8 L212.5,519.4 L216.5,518.7 L219.6,519.8 L222.6,520.8 L226.7,522.2 L230.7,522.8 L234.7,522.2 L238.8,520.8 L242.8,520.2 L246.9,520.8 L250.9,521.4 L255.0,522.8 L259.0,523.8 L263.1,523.4 L267.1,521.8 L271.2,520.8 L275.2,519.8 L279.3,519.4 L283.3,518.1 L287.4,516.1 L291.4,514.7 L295.5,513.3 L299.5,512.1 L303.5,510.6 L307.6,509.6 L311.6,508.6 L315.0,509.2 L318.0,508.0 L321.1,507.2 L324.1,506.0 L327.1,505.2 L330.2,503.6 L333.2,501.9 L336.2,500.5 L339.3,499.9 L343.3,499.9 L347.4,501.1 L350.4,501.9 L353.4,501.1 L357.5,500.5 L360.5,502.6 L363.6,504.6 L366.6,506.0 L369.6,507.2 L373.7,507.6 L377.7,508.0 L381.8,508.6 L384.8,508.6 L387.8,507.6 L390.9,506.0 L393.9,504.6 L397.0,503.6 L400.0,503.2 L403.0,504.0 L406.1,503.6 L409.1,502.6 L412.1,501.9 L416.2,501.9 L420.2,501.9 L424.3,501.9 L427.3,501.1 L430.3,499.9 L433.4,499.5 L436.4,500.5 L440.5,501.1 L444.5,501.5 L448.6,501.1 L452.6,499.9 L456.7,498.5 L459.7,498.5 L462.7,499.5 L465.8,500.5 L468.8,501.5 L471.8,502.6 L474.9,503.6 L477.9,504.6 L480.9,505.6 L484.0,507.6 L487.0,509.2 L490.0,509.2 L493.1,507.6 L496.1,505.2 L499.1,503.6 L500.8,503.2 L503.2,506.6 L505.2,508.0 L507.2,506.0 L509.7,506.6 L512.3,501.5 L515.3,503.2 L518.4,504.0 L521.4,504.6 L525.5,504.0 L529.5,502.6 L532.5,501.1 L535.6,499.1 L537.2,501.9 L539.6,505.2 L542.7,508.0 L545.7,510.6 L548.1,512.1" fill="none" stroke="#1a4165" stroke-width="4.3" stroke-linejoin="round" stroke-miterlimit="3" stroke-linecap="round"/>
<path d="M90.1,512.1 L93.1,511.7 L96.1,512.1 L98.2,509.2 L100.2,507.6 L103.2,508.6 L106.2,510.0 L109.3,512.1 L112.3,513.7 L115.4,513.3 L118.4,512.1 L121.4,511.3 L124.5,510.6 L127.5,511.7 L130.5,514.7 L133.2,516.7 L135.6,514.7 L138.0,511.3 L140.6,507.2 L143.7,504.6 L147.7,504.6 L151.8,504.0 L155.8,503.6 L159.9,502.6 L163.9,501.1 L167.0,499.5 L170.0,501.1 L174.0,502.6 L178.1,503.6 L182.1,503.6 L186.2,504.0 L190.2,504.6 L194.3,504.6 L197.3,503.2 L199.9,499.5 L202.4,497.9 L204.8,499.1 L207.4,503.6 L210.1,508.6 L212.1,510.0 L214.5,509.2 L217.5,508.0 L220.6,507.6 L223.6,508.6 L226.7,509.2 L229.7,508.0 L232.7,506.6 L236.8,504.6 L240.8,503.2 L244.9,501.9 L248.9,501.1 L253.0,499.9 L257.0,499.1 L261.1,498.5 L265.1,498.5 L269.1,498.5 L273.2,498.5 L277.2,498.5 L281.3,498.5 L285.3,497.1 L289.4,494.5 L293.4,492.4 L297.5,491.4 L301.5,491.0 L305.6,490.4 L309.6,489.8 L313.7,489.0 L315.0,489.0 L319.0,489.0 L323.1,489.8 L327.1,488.4 L330.2,487.0 L333.2,485.4 L337.3,486.4 L341.3,486.4 L345.4,487.0 L349.4,487.4 L353.4,487.0 L357.5,486.4 L361.5,486.4 L365.6,486.4 L369.6,486.4 L373.7,486.4 L377.7,487.0 L381.8,487.8 L385.8,487.8 L389.9,488.4 L393.9,488.4 L397.0,489.8 L400.0,491.8 L403.0,493.4 L406.1,493.9 L409.1,493.0 L412.1,493.0 L416.2,493.0 L420.2,493.0 L424.3,491.8 L427.3,491.0 L430.3,491.8 L433.4,493.0 L436.4,493.9 L439.5,491.4 L442.5,488.4 L445.5,485.8 L448.6,487.0 L451.6,487.8 L454.6,488.4 L458.7,489.0 L462.7,489.0 L466.8,489.0 L470.8,490.4 L474.9,492.4 L478.9,493.0 L483.0,494.5 L487.0,495.1 L491.1,494.5 L495.1,493.0 L499.1,492.4 L501.2,495.5 L503.6,497.9 L506.2,498.5 L508.3,499.1 L510.3,495.5 L512.3,495.1 L515.3,495.5 L518.4,494.5 L521.4,493.4 L525.5,492.4 L529.5,491.0 L532.5,490.4 L535.2,491.0 L537.2,493.9 L539.2,498.5 L541.6,503.2 L543.7,503.6 L546.1,501.9 L548.1,500.5" fill="none" stroke="#0c9ba8" stroke-width="4.3" stroke-linejoin="round" stroke-miterlimit="3" stroke-linecap="round"/>
<path d="M90.1,499.1 L93.1,497.1 L96.1,495.5 L98.2,490.4 L101.2,487.8 L104.2,489.4 L107.3,489.8 L110.3,490.4 L113.3,489.8 L116.4,490.4 L119.4,491.4 L122.4,492.4 L125.5,490.4 L128.5,489.8 L131.5,489.8 L134.6,489.4 L137.2,485.4 L139.2,482.3 L141.7,483.3 L144.7,482.9 L147.7,485.4 L150.8,486.4 L153.8,485.8 L157.8,485.4 L161.9,484.9 L165.9,484.3 L170.0,484.9 L174.0,485.4 L178.1,484.3 L182.1,483.3 L186.2,481.7 L189.2,480.9 L192.3,481.3 L196.3,480.9 L200.3,480.3 L204.4,479.7 L208.4,478.9 L212.5,477.7 L216.5,475.6 L220.6,473.6 L224.6,471.6 L228.7,470.8 L232.7,470.2 L236.8,469.6 L240.8,470.2 L244.9,469.2 L248.9,469.6 L250.9,468.8 L254.0,469.6 L257.0,470.2 L260.0,470.2 L263.1,469.2 L266.1,468.8 L269.1,467.5 L272.2,467.1" fill="none" stroke="#a2a810" stroke-width="4.3" stroke-linejoin="round" stroke-miterlimit="3" stroke-linecap="round"/>
</svg>
</body></html>
